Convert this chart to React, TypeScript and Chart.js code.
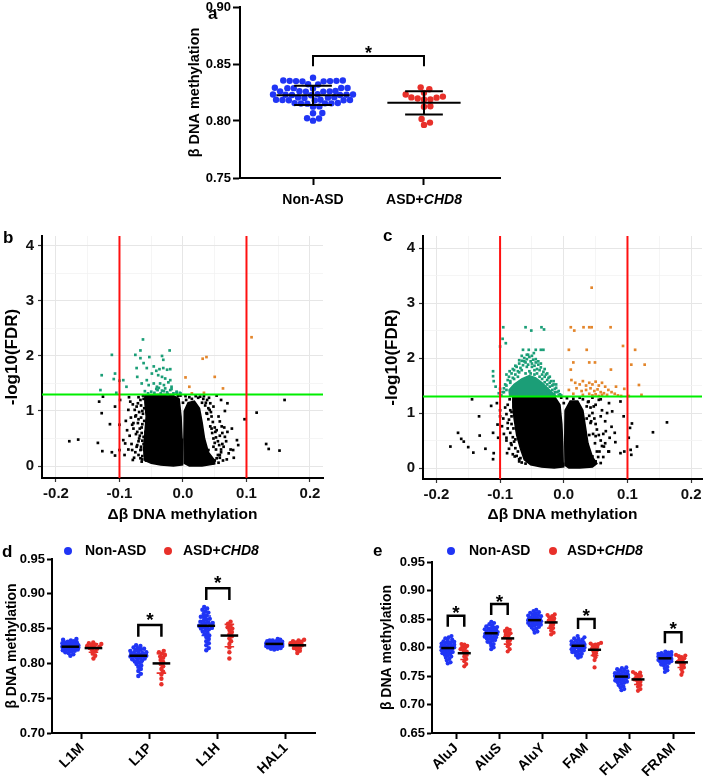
import React, { useEffect, useRef } from "react";
import { Chart, registerables } from "chart.js";
Chart.register(...registerables);

const FONT = "'Liberation Sans', Arial, Helvetica, sans-serif";
Chart.defaults.font.family = FONT;
Chart.defaults.color = "#000";

const BLUE = "#2035f5";
const RED = "#e8302a";
const TEAL = "#1b9e77";
const ORANGE = "#e3862c";
const ITALIC_WORD = "CHD8";

// ---------------- Panel a ----------------
const A_LABELS = ["Non-ASD", "ASD+CHD8"];
const A_TICKS = [0.75, 0.8, 0.85, 0.9];
const A_NON_ASD = [0.838, 0.8355, 0.8352, 0.835, 0.8348, 0.8352, 0.835, 0.8355, 0.8348, 0.8322, 0.832, 0.8288, 0.829, 0.8286, 0.8292, 0.8288, 0.829, 0.826, 0.8262, 0.8258, 0.826, 0.8264, 0.8258, 0.8232, 0.823, 0.8228, 0.8234, 0.823, 0.8226, 0.8232, 0.8228, 0.8205, 0.8208, 0.8202, 0.8206, 0.8184, 0.8182, 0.8186, 0.818, 0.8184, 0.8182, 0.8186, 0.8155, 0.8157, 0.8153, 0.8155, 0.8158, 0.8152, 0.8126, 0.8128, 0.8068, 0.807, 0.8024, 0.8022, 0.8003];
const A_ASD_CHD8 = [0.8295, 0.8278, 0.8247, 0.8233, 0.8214, 0.8207, 0.8205, 0.8198, 0.819, 0.8188, 0.813, 0.8126, 0.8018, 0.7986, 0.7966];
const A_MEAN = [0.8225, 0.816];
const A_SD = [0.0085, 0.0102];
const A_BRACKETS = [[1, 2, 0.848, 0.857, 0.8638]];

// ---------------- Volcano panels b / c ----------------
const LFC_CUT = 0.1;
const FDR_LINE = 1.301;
const VOLC_X_TICKS = [-0.2, -0.15, -0.1, -0.05, 0, 0.05, 0.1, 0.15, 0.2];
const VOLC_Y_TICKS = [0, 0.5, 1, 1.5, 2, 2.5, 3, 3.5, 4];

const B_CORE_L = [[-0.06, 1.29], [-0.04, 1.3], [-0.018, 1.3], [-0.006, 1.22], [-0.003, 0.9], [-0.0015, 0.5], [-0.001, 0.15], [0.0, 0.02], [-0.015, 0.0], [-0.035, 0.02], [-0.05, 0.05], [-0.06, 0.1], [-0.062, 0.3], [-0.06, 0.6], [-0.058, 0.9], [-0.06, 1.15]];
const B_CORE_R = [[0.002, 1.0], [0.008, 1.15], [0.018, 1.18], [0.026, 1.05], [0.03, 0.8], [0.034, 0.5], [0.04, 0.25], [0.05, 0.1], [0.05, 0.04], [0.03, 0.0], [0.01, 0.0], [0.002, 0.05], [0.0015, 0.5]];
const B_BLACK = [[-0.179, 0.45], [-0.165, 0.48], [-0.134, 0.42], [-0.127, 0.27], [-0.112, 0.25], [-0.107, 0.19], [-0.115, 0.76], [-0.128, 0.96], [-0.132, 1.17], [-0.126, 1.26], [-0.107, 1.08], [-0.1, 0.75], [-0.1, 0.29], [-0.091, 0.41], [-0.088, 0.65], [-0.086, 1.02], [-0.08, 0.29], [-0.078, 0.78], [-0.083, 1.17], [-0.073, 0.35], [-0.079, 0.11], [-0.067, 0.14], [-0.099, 1.2], [-0.094, 0.47], [-0.067, 0.29], [-0.062, 0.53], [-0.073, 1.08], [-0.075, 0.9],
  [0.16, 1.2], [0.116, 0.97], [0.097, 0.85], [0.131, 0.4], [0.135, 0.31], [0.152, 0.28], [0.069, 0.12], [0.077, 0.68], [0.07, 1.14], [0.085, 0.47], [0.087, 0.38], [0.079, 0.29], [0.058, 0.2], [0.053, 1.28], [0.048, 1.08], [0.056, 0.9], [0.061, 0.72], [0.066, 0.53], [0.051, 0.62], [0.043, 1.14], [0.027, 1.26], [0.037, 0.96], [0.048, 0.35], [0.064, 0.35], [0.072, 0.23], [0.053, 0.14], [0.04, 0.29], [0.058, 0.81],
  [-0.062, 1.22], [-0.066, 1.1], [-0.063, 0.95], [-0.07, 0.85], [-0.065, 0.7], [-0.068, 0.55], [-0.062, 0.4], [-0.066, 0.3], [-0.06, 0.22], [-0.064, 0.12], [-0.058, 0.1], [-0.075, 0.25], [-0.072, 0.62], [-0.076, 1.02], [-0.08, 0.75], [-0.061, 1.05], [-0.059, 0.62], [-0.061, 0.82], [-0.07, 1.25], [-0.058, 1.27], [-0.064, 0.18], [-0.07, 0.45],
  [0.035, 1.1], [0.038, 0.95], [0.04, 0.85], [0.043, 0.72], [0.046, 0.6], [0.048, 0.5], [0.05, 0.42], [0.052, 0.3], [0.055, 0.2], [0.05, 0.1], [0.058, 0.15], [0.038, 1.2], [0.032, 1.22], [0.045, 0.9], [0.042, 1.02], [0.055, 0.45], [0.06, 0.3], [0.053, 0.65], [0.058, 0.55], [0.062, 0.4], [0.047, 0.05], [0.02, 1.27], [0.01, 1.25], [0.005, 1.2], [-0.008, 1.27],
  [-0.063, 1.28], [-0.067, 1.2], [-0.071, 1.14], [-0.064, 1.0], [-0.069, 0.98], [-0.074, 0.92], [-0.066, 0.88], [-0.071, 0.78], [-0.064, 0.76], [-0.068, 0.68], [-0.074, 0.58], [-0.065, 0.6], [-0.069, 0.5], [-0.064, 0.46], [-0.072, 0.38], [-0.066, 0.35], [-0.07, 0.2], [-0.065, 0.08], [-0.077, 0.15], [-0.081, 0.4], [-0.084, 0.55], [-0.078, 0.68], [-0.082, 0.88], [-0.079, 1.12], [-0.085, 1.25], [-0.09, 0.82], [-0.092, 0.2], [-0.086, 0.3],
  [0.036, 1.15], [0.04, 1.05], [0.044, 0.98], [0.047, 0.8], [0.05, 0.7], [0.045, 0.68], [0.052, 0.52], [0.057, 0.38], [0.06, 0.25], [0.063, 0.1], [0.056, 0.06], [0.062, 0.6], [0.065, 0.7], [0.068, 0.45], [0.07, 0.62], [0.066, 1.0], [0.06, 1.2], [0.075, 0.3], [0.08, 0.15], [0.033, 1.27], [0.041, 1.24], [0.03, 1.15],
  [-0.004, 1.28], [0.0, 1.15], [0.004, 1.27], [0.014, 1.22], [0.024, 1.24]];
const B_GREEN = [[-0.063, 2.3], [-0.112, 2.02], [-0.067, 2.1], [-0.075, 2.02], [-0.067, 1.96], [-0.053, 1.98], [-0.033, 2.0], [-0.021, 2.1], [-0.031, 1.93], [-0.128, 1.65], [-0.107, 1.68], [-0.109, 1.58], [-0.1, 1.55], [-0.094, 1.56], [-0.089, 1.44], [-0.13, 1.38], [-0.105, 1.33], [-0.073, 1.78], [-0.072, 1.62], [-0.062, 1.87], [-0.057, 1.78], [-0.046, 1.81], [-0.042, 1.73], [-0.037, 1.76], [-0.031, 1.78], [-0.025, 1.75], [-0.02, 1.76], [-0.049, 1.68], [-0.039, 1.65], [-0.033, 1.62], [-0.028, 1.59], [-0.02, 1.56], [-0.057, 1.56], [-0.065, 1.5], [-0.054, 1.47], [-0.046, 1.5], [-0.041, 1.44], [-0.036, 1.5], [-0.03, 1.47], [-0.023, 1.52], [-0.018, 1.44], [-0.05, 1.35], [-0.045, 1.33], [-0.04, 1.38], [-0.035, 1.32], [-0.03, 1.36], [-0.025, 1.34], [-0.02, 1.38], [-0.015, 1.32], [-0.01, 1.35], [-0.042, 1.4], [-0.028, 1.41], [-0.018, 1.4], [-0.055, 1.32], [-0.06, 1.36], [-0.005, 1.33], [-0.01, 1.33], [-0.004, 1.32], [-0.033, 1.37], [-0.024, 1.31], [-0.038, 1.42]];
const B_ORANGE = [[0.108, 2.34], [0.031, 1.95], [0.037, 1.98], [0.004, 1.61], [0.05, 1.62], [0.01, 1.44], [0.063, 1.41], [0.033, 1.33], [0.014, 1.32]];

const C_CORE_L = [[-0.08, 1.29], [-0.06, 1.3], [-0.035, 1.3], [-0.014, 1.29], [-0.006, 1.15], [-0.003, 0.8], [-0.0015, 0.4], [-0.001, 0.1], [0.0, 0.02], [-0.015, 0.0], [-0.035, 0.02], [-0.052, 0.06], [-0.062, 0.15], [-0.068, 0.35], [-0.074, 0.6], [-0.078, 0.9], [-0.08, 1.1]];
const C_CORE_R = [[0.002, 1.05], [0.01, 1.22], [0.022, 1.22], [0.03, 1.05], [0.034, 0.75], [0.038, 0.45], [0.045, 0.2], [0.052, 0.08], [0.045, 0.02], [0.025, 0.0], [0.008, 0.0], [0.002, 0.05], [0.0015, 0.5]];
const C_BLACK = [[-0.178, 0.39], [-0.166, 0.64], [-0.161, 0.53], [-0.157, 0.48], [-0.15, 0.38], [-0.142, 0.28], [-0.132, 0.59], [-0.133, 0.94], [-0.144, 1.25], [-0.123, 0.35], [-0.114, 1.13], [-0.111, 0.64], [-0.11, 0.27], [-0.111, 0.16], [-0.104, 0.79], [-0.103, 0.55], [-0.1, 0.94], [-0.105, 1.18], [-0.09, 0.55], [-0.088, 0.82], [-0.083, 0.45], [-0.089, 0.27], [-0.082, 0.94], [-0.079, 1.21], [-0.077, 0.21], [-0.07, 0.12],
  [0.162, 0.83], [0.14, 0.65], [0.115, 0.39], [0.107, 0.81], [0.104, 0.73], [0.102, 0.55], [0.105, 0.33], [0.106, 0.24], [0.095, 0.3], [0.089, 0.27], [0.081, 0.47], [0.08, 0.64], [0.094, 0.94], [0.089, 1.21], [0.076, 1.03], [0.071, 1.18], [0.071, 0.3], [0.058, 0.09], [0.063, 0.39], [0.066, 0.67], [0.058, 0.94], [0.047, 1.12], [0.055, 1.24], [0.039, 1.21], [0.042, 0.82], [0.05, 0.58], [0.034, 0.33], [0.045, 0.21], [0.037, 0.09],
  [-0.085, 1.25], [-0.088, 1.15], [-0.084, 1.05], [-0.09, 0.98], [-0.086, 0.88], [-0.082, 0.8], [-0.088, 0.72], [-0.084, 0.64], [-0.08, 0.56], [-0.078, 0.48], [-0.082, 0.42], [-0.076, 0.36], [-0.072, 0.3], [-0.074, 0.22], [-0.068, 0.18], [-0.066, 0.1], [-0.06, 0.08], [-0.092, 1.1], [-0.095, 0.9], [-0.094, 0.62], [-0.09, 0.5], [-0.086, 0.35], [-0.08, 0.25], [-0.097, 0.76], [-0.1, 1.05], [-0.07, 0.16],
  [0.038, 1.2], [0.042, 1.1], [0.045, 1.0], [0.048, 0.9], [0.05, 0.8], [0.052, 0.7], [0.055, 0.6], [0.058, 0.5], [0.06, 0.4], [0.056, 0.3], [0.054, 0.2], [0.05, 0.12], [0.045, 0.06], [0.062, 0.62], [0.065, 0.85], [0.06, 1.05], [0.068, 1.0], [0.05, 1.15], [0.058, 1.25], [0.065, 0.45], [0.07, 0.3], [0.062, 0.2], [0.03, 1.25], [0.025, 1.28], [0.045, 1.28], [0.075, 0.75], [0.072, 0.55],
  [0.036, 1.12], [0.04, 0.95], [0.043, 0.85], [0.046, 0.62], [0.049, 0.45], [0.052, 0.3], [0.04, 0.6], [0.036, 0.9], [-0.004, 1.28], [0.0, 1.18], [0.005, 1.27], [0.015, 1.26], [-0.082, 1.02], [-0.079, 0.72], [-0.076, 0.52]];
const C_GREEN_CORE = [[-0.085, 1.31], [-0.086, 1.42], [-0.078, 1.52], [-0.066, 1.62], [-0.054, 1.68], [-0.044, 1.64], [-0.034, 1.55], [-0.025, 1.45], [-0.017, 1.36], [-0.012, 1.31]];
const C_GREEN = [[-0.095, 2.56], [-0.06, 2.56], [-0.051, 2.5], [-0.035, 2.56], [-0.031, 2.52], [-0.096, 2.35], [-0.091, 2.27], [-0.1, 2.21], [-0.064, 2.15], [-0.055, 2.15], [-0.044, 2.15], [-0.036, 2.15], [-0.032, 2.15], [-0.058, 2.06], [-0.047, 2.09], [-0.111, 1.76], [-0.111, 1.67], [-0.11, 1.58], [-0.107, 1.48],
  [-0.098, 1.32], [-0.096, 1.38], [-0.094, 1.45], [-0.092, 1.52], [-0.09, 1.42], [-0.088, 1.6], [-0.086, 1.66], [-0.084, 1.55], [-0.082, 1.72], [-0.08, 1.64], [-0.078, 1.78], [-0.076, 1.7], [-0.074, 1.84], [-0.072, 1.76], [-0.07, 1.9], [-0.068, 1.82], [-0.066, 1.95], [-0.064, 1.87], [-0.062, 2.0], [-0.06, 1.92], [-0.058, 1.98], [-0.056, 1.88], [-0.054, 2.02], [-0.052, 1.94], [-0.05, 1.9], [-0.048, 1.97], [-0.046, 1.86], [-0.044, 1.92], [-0.042, 1.8], [-0.04, 1.88], [-0.038, 1.78], [-0.036, 1.83], [-0.034, 1.7], [-0.032, 1.75], [-0.03, 1.66], [-0.028, 1.7], [-0.026, 1.6], [-0.024, 1.64], [-0.022, 1.55], [-0.02, 1.58], [-0.018, 1.5], [-0.016, 1.52], [-0.014, 1.44], [-0.012, 1.46], [-0.01, 1.38], [-0.008, 1.4], [-0.006, 1.34], [-0.004, 1.32], [-0.015, 1.34], [-0.025, 1.36], [-0.035, 1.33], [-0.045, 1.35], [-0.055, 1.32], [-0.065, 1.34], [-0.075, 1.33], [-0.083, 1.36], [-0.102, 1.36], [-0.1, 1.44],
  [-0.09, 1.7], [-0.085, 1.76], [-0.08, 1.8], [-0.076, 1.86], [-0.07, 1.96], [-0.066, 2.04], [-0.062, 1.94], [-0.058, 1.84], [-0.054, 1.76], [-0.05, 1.84], [-0.046, 1.78], [-0.042, 1.72], [-0.038, 1.66], [-0.034, 1.62], [-0.03, 1.56], [-0.026, 1.52], [-0.022, 1.48], [-0.018, 1.42], [-0.014, 1.38], [-0.008, 1.32], [-0.06, 1.72], [-0.066, 1.78], [-0.072, 1.66], [-0.078, 1.62], [-0.084, 1.58], [-0.09, 1.5], [-0.094, 1.38], [-0.044, 1.98], [-0.05, 2.04], [-0.056, 2.06], [-0.04, 1.94], [-0.036, 1.9], [-0.03, 1.8], [-0.026, 1.72], [-0.022, 1.66], [-0.016, 1.58], [-0.012, 1.52], [-0.07, 1.74], [-0.052, 1.72], [-0.046, 1.7]];
const C_ORANGE = [[0.0438, 3.28], [0.011, 2.56], [0.0165, 2.5], [0.031, 2.56], [0.04, 2.56], [0.0438, 2.56], [0.0735, 2.56], [0.008, 2.15], [0.036, 2.15], [0.093, 2.22], [0.112, 2.15], [0.015, 1.92], [0.04, 1.92], [0.049, 1.92], [0.106, 1.88], [0.127, 1.88], [0.011, 1.79], [0.074, 1.79], [0.118, 1.51], [0.122, 1.33], [0.095, 1.44], [0.082, 1.48],
  [0.012, 1.6], [0.018, 1.55], [0.025, 1.52], [0.03, 1.58], [0.035, 1.5], [0.04, 1.55], [0.045, 1.52], [0.05, 1.57], [0.055, 1.5], [0.06, 1.55], [0.065, 1.48], [0.07, 1.42], [0.075, 1.38], [0.02, 1.45], [0.028, 1.4], [0.035, 1.42], [0.042, 1.45], [0.048, 1.4], [0.053, 1.43], [0.058, 1.38], [0.063, 1.36], [0.068, 1.33], [0.04, 1.35], [0.045, 1.32], [0.05, 1.34], [0.055, 1.31], [0.06, 1.33], [0.03, 1.33], [0.015, 1.35], [0.008, 1.42], [0.08, 1.35], [0.085, 1.32], [0.09, 1.31], [0.102, 1.31]];

// ---------------- Panel d ----------------
const D_CATS = ["L1M", "L1P", "L1H", "HAL1"];
const D_TICKS = [0.7, 0.75, 0.8, 0.85, 0.9, 0.95];
const D_NON_ASD = [
  [0.835, 0.834, 0.833, 0.832, 0.831, 0.83, 0.83, 0.829, 0.828, 0.828, 0.827, 0.827, 0.826, 0.826, 0.825, 0.825, 0.825, 0.824, 0.824, 0.824, 0.823, 0.823, 0.823, 0.822, 0.822, 0.821, 0.821, 0.82, 0.82, 0.819, 0.818, 0.817, 0.816, 0.815, 0.813, 0.811],
  [0.826, 0.825, 0.823, 0.822, 0.821, 0.82, 0.819, 0.818, 0.817, 0.816, 0.815, 0.815, 0.814, 0.813, 0.813, 0.812, 0.812, 0.811, 0.811, 0.81, 0.81, 0.809, 0.808, 0.807, 0.806, 0.805, 0.804, 0.803, 0.801, 0.799, 0.797, 0.795, 0.792, 0.789, 0.785, 0.782],
  [0.881, 0.879, 0.877, 0.875, 0.873, 0.871, 0.869, 0.867, 0.866, 0.864, 0.863, 0.861, 0.86, 0.859, 0.858, 0.857, 0.856, 0.855, 0.854, 0.853, 0.852, 0.851, 0.85, 0.849, 0.848, 0.846, 0.844, 0.842, 0.84, 0.838, 0.835, 0.832, 0.829, 0.826, 0.822, 0.819],
  [0.835, 0.834, 0.833, 0.833, 0.832, 0.832, 0.831, 0.831, 0.83, 0.83, 0.83, 0.829, 0.829, 0.829, 0.828, 0.828, 0.828, 0.828, 0.827, 0.827, 0.827, 0.827, 0.826, 0.826, 0.826, 0.825, 0.825, 0.825, 0.824, 0.824, 0.823, 0.823, 0.822, 0.821, 0.821, 0.82],
];
const D_ASD_CHD8 = [
  [0.83, 0.829, 0.828, 0.827, 0.826, 0.825, 0.824, 0.823, 0.822, 0.821, 0.819, 0.817, 0.814, 0.811, 0.807],
  [0.818, 0.816, 0.814, 0.812, 0.81, 0.808, 0.805, 0.802, 0.799, 0.796, 0.792, 0.788, 0.784, 0.778, 0.77],
  [0.86, 0.857, 0.854, 0.852, 0.85, 0.848, 0.845, 0.842, 0.839, 0.836, 0.832, 0.828, 0.823, 0.816, 0.807],
  [0.834, 0.833, 0.832, 0.831, 0.83, 0.829, 0.828, 0.827, 0.826, 0.825, 0.823, 0.822, 0.82, 0.818, 0.815],
];
const D_NON_MEAN = [0.824, 0.811, 0.854, 0.828];
const D_NON_SD = [0.005, 0.01, 0.014, 0.004];
const D_ASD_MEAN = [0.822, 0.8, 0.84, 0.826];
const D_ASD_SD = [0.006, 0.014, 0.016, 0.005];
const D_BRACKETS = [[1, 0.8384, 0.855, 0.8695], [2, 0.891, 0.9079, 0.9222]];

// ---------------- Panel e ----------------
const E_CATS = ["AluJ", "AluS", "AluY", "FAM", "FLAM", "FRAM"];
const E_TICKS = [0.65, 0.7, 0.75, 0.8, 0.85, 0.9, 0.95];
const E_NON_ASD = [
  [0.82, 0.818, 0.816, 0.814, 0.813, 0.811, 0.81, 0.809, 0.808, 0.807, 0.806, 0.805, 0.804, 0.803, 0.802, 0.801, 0.8, 0.799, 0.798, 0.797, 0.796, 0.795, 0.794, 0.793, 0.792, 0.791, 0.79, 0.789, 0.787, 0.786, 0.784, 0.782, 0.78, 0.777, 0.774, 0.772],
  [0.845, 0.843, 0.841, 0.839, 0.837, 0.836, 0.835, 0.834, 0.833, 0.832, 0.831, 0.83, 0.829, 0.828, 0.827, 0.826, 0.825, 0.825, 0.824, 0.823, 0.822, 0.821, 0.82, 0.819, 0.818, 0.817, 0.816, 0.815, 0.813, 0.812, 0.81, 0.808, 0.806, 0.803, 0.8, 0.797],
  [0.866, 0.864, 0.862, 0.861, 0.86, 0.858, 0.857, 0.856, 0.855, 0.854, 0.853, 0.852, 0.851, 0.85, 0.85, 0.849, 0.849, 0.848, 0.848, 0.847, 0.846, 0.845, 0.845, 0.844, 0.843, 0.842, 0.841, 0.84, 0.839, 0.838, 0.836, 0.835, 0.833, 0.831, 0.828, 0.826],
  [0.82, 0.818, 0.816, 0.815, 0.814, 0.812, 0.811, 0.81, 0.809, 0.808, 0.807, 0.806, 0.806, 0.805, 0.805, 0.804, 0.803, 0.803, 0.802, 0.801, 0.8, 0.8, 0.799, 0.798, 0.797, 0.796, 0.795, 0.794, 0.793, 0.792, 0.791, 0.789, 0.788, 0.786, 0.784, 0.782],
  [0.765, 0.764, 0.762, 0.761, 0.76, 0.758, 0.757, 0.756, 0.755, 0.754, 0.753, 0.752, 0.751, 0.751, 0.75, 0.75, 0.749, 0.749, 0.748, 0.747, 0.746, 0.745, 0.745, 0.744, 0.743, 0.742, 0.741, 0.74, 0.739, 0.738, 0.736, 0.734, 0.732, 0.73, 0.727, 0.725],
  [0.793, 0.792, 0.791, 0.79, 0.789, 0.788, 0.787, 0.786, 0.786, 0.785, 0.785, 0.784, 0.784, 0.783, 0.783, 0.782, 0.782, 0.781, 0.781, 0.78, 0.78, 0.779, 0.778, 0.778, 0.777, 0.776, 0.775, 0.774, 0.773, 0.772, 0.77, 0.768, 0.766, 0.763, 0.76, 0.757],
];
const E_ASD_CHD8 = [
  [0.806, 0.805, 0.803, 0.801, 0.799, 0.797, 0.795, 0.793, 0.79, 0.787, 0.784, 0.78, 0.776, 0.771, 0.767],
  [0.833, 0.831, 0.829, 0.827, 0.825, 0.823, 0.821, 0.818, 0.816, 0.813, 0.81, 0.806, 0.802, 0.797, 0.793],
  [0.858, 0.857, 0.855, 0.853, 0.851, 0.849, 0.847, 0.845, 0.843, 0.84, 0.837, 0.834, 0.83, 0.826, 0.823],
  [0.808, 0.807, 0.806, 0.805, 0.803, 0.801, 0.799, 0.797, 0.795, 0.793, 0.79, 0.787, 0.783, 0.778, 0.765],
  [0.757, 0.756, 0.754, 0.752, 0.75, 0.748, 0.746, 0.744, 0.742, 0.74, 0.737, 0.734, 0.731, 0.727, 0.724],
  [0.787, 0.786, 0.785, 0.783, 0.781, 0.779, 0.777, 0.775, 0.773, 0.771, 0.768, 0.765, 0.762, 0.757, 0.752],
];
const E_NON_MEAN = [0.799, 0.825, 0.848, 0.803, 0.749, 0.781];
const E_NON_SD = [0.011, 0.01, 0.009, 0.009, 0.009, 0.008];
const E_ASD_MEAN = [0.79, 0.816, 0.844, 0.796, 0.744, 0.774];
const E_ASD_SD = [0.011, 0.01, 0.01, 0.01, 0.009, 0.009];
const E_BRACKETS = [[0, 0.8365, 0.8558, 0.8698], [1, 0.857, 0.8763, 0.889], [3, 0.8325, 0.85, 0.8646], [5, 0.8074, 0.8266, 0.8407]];

// ---------------- helpers ----------------
function richParts(label: string): [string, boolean][] {
  const i = label.indexOf(ITALIC_WORD);
  if (i < 0) return [[label, false]];
  const parts: [string, boolean][] = [];
  if (i > 0) parts.push([label.slice(0, i), false]);
  parts.push([ITALIC_WORD, true]);
  const rest = label.slice(i + ITALIC_WORD.length);
  if (rest) parts.push([rest, false]);
  return parts;
}

function drawRich(ctx: CanvasRenderingContext2D, label: string, x: number, y: number, size: number, align: string) {
  const parts = richParts(label);
  const f = (it: boolean) => `${it ? "italic " : ""}bold ${size}px ${FONT}`;
  let total = 0;
  for (const [t, it] of parts) { ctx.font = f(it); total += ctx.measureText(t).width; }
  let cx = align === "center" ? x - total / 2 : x;
  ctx.textAlign = "left";
  ctx.textBaseline = "middle";
  ctx.fillStyle = "#000";
  for (const [t, it] of parts) { ctx.font = f(it); ctx.fillText(t, cx, y); cx += ctx.measureText(t).width; }
}

function drawStar(ctx: CanvasRenderingContext2D, x: number, y: number, size: number) {
  ctx.font = `bold ${size}px ${FONT}`;
  ctx.textAlign = "center";
  ctx.textBaseline = "alphabetic";
  ctx.fillStyle = "#000";
  ctx.fillText("*", x, y + size * 0.58);
}

function swarm(values: number[], center: number, pxY: number, pxX: number, diam: number, maxHalf: number) {
  const placed: { x: number; y: number }[] = [];
  const out: { x: number; y: number }[] = [];
  const sorted = [...values].sort((a, b) => a - b);
  const d2 = diam * diam;
  for (const v of sorted) {
    const py = v * pxY;
    const cands = [0];
    for (const p of placed) {
      const dy = Math.abs(p.y - py);
      if (dy < diam) { const dx = Math.sqrt(d2 - dy * dy); cands.push(p.x + dx, p.x - dx); }
    }
    cands.sort((a, b) => Math.abs(a) - Math.abs(b));
    let best: number | null = null;
    for (const c of cands) {
      if (Math.abs(c) > maxHalf) continue;
      if (placed.every((p) => (p.x - c) ** 2 + (p.y - py) ** 2 >= d2 - 1e-6)) { best = c; break; }
    }
    if (best === null) {
      let score = -1;
      for (let c = -maxHalf; c <= maxHalf + 1e-9; c += 0.5) {
        let m = Infinity;
        for (const p of placed) m = Math.min(m, (p.x - c) ** 2 + (p.y - py) ** 2);
        if (m > score) { score = m; best = c; }
      }
    }
    placed.push({ x: best as number, y: py });
    out.push({ x: center + (best as number) / pxX, y: v });
  }
  return out;
}

const bold = (size: number) => ({ family: FONT, size, weight: "bold" as any });

function gpYAxis(ticks: number[], min: number, max: number, width: number, titlePad: number, titleSize: number, tickLen: number) {
  return {
    type: "linear", min, max,
    afterBuildTicks: (s: any) => { s.ticks = ticks.map((value) => ({ value })); },
    ticks: { autoSkip: false, font: bold(13), color: "#000", padding: 2, callback: (v: any) => Number(v).toFixed(2) },
    grid: { display: true, drawOnChartArea: false, drawTicks: true, tickLength: tickLen, tickWidth: 2, tickColor: "#000" },
    border: { display: true, color: "#000", width: 2 },
    title: { display: true, text: "β DNA methylation", font: bold(titleSize), color: "#000", padding: { top: titlePad, bottom: 0 } },
    afterFit: (s: any) => { s.width = width; s.paddingTop = 0; s.paddingBottom = 0; },
  };
}

// ---------------- configs ----------------
function configA() {
  const blue = swarm(A_NON_ASD, 1, 1142, 111, 6.4, 40);
  const red = swarm(A_ASD_CHD8, 2, 1142, 111, 6.4, 40);
  const plugin = {
    id: "annotA",
    afterDatasetsDraw(chart: any) {
      const { ctx } = chart;
      const x = chart.scales.x, y = chart.scales.y;
      ctx.save();
      ctx.strokeStyle = "#000";
      ctx.lineWidth = 2;
      A_MEAN.forEach((m, i) => {
        const c = i + 1;
        const cx = x.getPixelForValue(c);
        const ym = y.getPixelForValue(m), yt = y.getPixelForValue(m + A_SD[i]), yb = y.getPixelForValue(m - A_SD[i]);
        ctx.beginPath();
        ctx.moveTo(x.getPixelForValue(c - 0.33), ym); ctx.lineTo(x.getPixelForValue(c + 0.33), ym);
        ctx.moveTo(cx, yt); ctx.lineTo(cx, yb);
        ctx.moveTo(x.getPixelForValue(c - 0.17), yt); ctx.lineTo(x.getPixelForValue(c + 0.17), yt);
        ctx.moveTo(x.getPixelForValue(c - 0.17), yb); ctx.lineTo(x.getPixelForValue(c + 0.17), yb);
        ctx.stroke();
      });
      A_BRACKETS.forEach(([x1, x2, b, t, s]) => {
        const p1 = x.getPixelForValue(x1), p2 = x.getPixelForValue(x2);
        ctx.beginPath();
        ctx.moveTo(p1, y.getPixelForValue(b)); ctx.lineTo(p1, y.getPixelForValue(t));
        ctx.lineTo(p2, y.getPixelForValue(t)); ctx.lineTo(p2, y.getPixelForValue(b));
        ctx.stroke();
        drawStar(ctx, (p1 + p2) / 2, y.getPixelForValue(s), 18);
      });
      A_LABELS.forEach((lab, i) => drawRich(ctx, lab, x.getPixelForValue(i + 1), chart.chartArea.bottom + 22, 14, "center"));
      ctx.restore();
    },
  };
  return {
    type: "scatter",
    data: {
      datasets: [
        { data: blue, pointBackgroundColor: BLUE, pointBorderWidth: 0, pointRadius: 3.2 },
        { data: red, pointBackgroundColor: RED, pointBorderWidth: 0, pointRadius: 3.2 },
      ],
    },
    options: {
      animation: false, responsive: false, events: [],
      layout: { padding: { top: 7, right: 4, left: 0, bottom: 0 } },
      plugins: { legend: { display: false }, tooltip: { enabled: false } },
      scales: {
        x: {
          type: "linear", min: 0.342, max: 2.685,
          afterBuildTicks: (s: any) => { s.ticks = A_LABELS.map((_, i) => ({ value: i + 1 })); },
          ticks: { display: false },
          grid: { display: true, drawOnChartArea: false, drawTicks: true, tickLength: 7, tickWidth: 2, tickColor: "#000" },
          border: { display: true, color: "#000", width: 2 },
          afterFit: (s: any) => { s.height = 37; s.paddingLeft = 0; s.paddingRight = 0; },
        },
        y: gpYAxis(A_TICKS, 0.75, 0.9, 62, 8.3, 14.5, 7),
      },
    },
    plugins: [plugin],
  };
}

function volcanoConfig(v: any) {
  const P = (a: number[][]) => a.map(([x, y]) => ({ x, y }));
  const poly = (a: number[][]) => { const p = P(a); p.push({ ...p[0] }); return p; };
  const isMaj = (val: number, step: number) => Math.abs(val / step - Math.round(val / step)) < 1e-6;
  const ptStyle = { pointStyle: "rect", pointRadius: 1.9, pointBorderWidth: 0 };
  const line = (data: any[], color: string) => ({ data, showLine: true, borderColor: color, borderWidth: 2, pointRadius: 0, fill: false, order: 0 });
  const datasets: any[] = [
    line([{ x: -LFC_CUT, y: v.yMin }, { x: -LFC_CUT, y: v.yMax }], "#ff1010"),
    line([{ x: LFC_CUT, y: v.yMin }, { x: LFC_CUT, y: v.yMax }], "#ff1010"),
    line([{ x: v.xMin, y: FDR_LINE }, { x: v.xMax, y: FDR_LINE }], "#00ee00"),
    { data: P(v.orange), pointBackgroundColor: ORANGE, ...ptStyle, order: 2 },
    { data: P(v.green), pointBackgroundColor: TEAL, ...ptStyle, order: 3 },
    { data: P(v.black), pointBackgroundColor: "#000", ...ptStyle, order: 5 },
    { data: poly(v.coreL), showLine: true, fill: "shape", backgroundColor: "#000", borderColor: "#000", borderWidth: 1.5, pointRadius: 0, order: 6 },
    { data: poly(v.coreR), showLine: true, fill: "shape", backgroundColor: "#000", borderColor: "#000", borderWidth: 1.5, pointRadius: 0, order: 6 },
  ];
  if (v.greenCore) datasets.push({ data: poly(v.greenCore), showLine: true, fill: "shape", backgroundColor: TEAL, borderColor: TEAL, borderWidth: 1.5, pointRadius: 0, order: 4 });
  const gridOpts = (step: number) => ({
    display: true, drawOnChartArea: true, drawTicks: true, tickLength: 4,
    color: (c: any) => (c.tick && isMaj(c.tick.value, step) ? "#e6e6e6" : "#f2f2f2"),
    lineWidth: (c: any) => (c.tick && isMaj(c.tick.value, step) ? 1 : 0.8),
    tickColor: (c: any) => (c.tick && isMaj(c.tick.value, step) ? "#333" : "rgba(0,0,0,0)"),
    tickWidth: 1.2,
  });
  return {
    type: "scatter",
    data: { datasets },
    options: {
      animation: false, responsive: false, events: [],
      layout: { padding: { top: v.padTop, right: v.padRight, left: 0, bottom: 0 } },
      plugins: { legend: { display: false }, tooltip: { enabled: false } },
      scales: {
        x: {
          type: "linear", min: v.xMin, max: v.xMax,
          afterBuildTicks: (s: any) => { s.ticks = VOLC_X_TICKS.map((value) => ({ value })); },
          ticks: { autoSkip: false, maxRotation: 0, font: bold(15), color: "#111", padding: 3, callback: (val: any) => (isMaj(val, 0.1) ? Number(val).toFixed(1) : "") },
          grid: gridOpts(0.1),
          border: { display: true, color: "#000", width: 2 },
          title: { display: true, text: "Δβ DNA methylation", font: bold(15.5), color: "#000", padding: { top: 0, bottom: 6 } },
          afterFit: (s: any) => { s.height = v.xHeight; s.paddingLeft = 0; s.paddingRight = 0; },
        },
        y: {
          type: "linear", min: v.yMin, max: v.yMax,
          afterBuildTicks: (s: any) => { s.ticks = VOLC_Y_TICKS.map((value) => ({ value })); },
          ticks: { autoSkip: false, font: bold(15), color: "#111", padding: 4, callback: (val: any) => (isMaj(val, 1) ? String(Math.round(val)) : "") },
          grid: gridOpts(1),
          border: { display: true, color: "#000", width: 2 },
          title: { display: true, text: "-log10(FDR)", font: bold(17), color: "#000", padding: { top: v.titlePad, bottom: 0 } },
          afterFit: (s: any) => { s.width = v.yWidth; s.paddingTop = 0; s.paddingBottom = 0; },
        },
      },
    },
  };
}

const VB = { coreL: B_CORE_L, coreR: B_CORE_R, black: B_BLACK, green: B_GREEN, orange: B_ORANGE, greenCore: null,
  xMin: -0.222, xMax: 0.2205, yMin: -0.218, yMax: 4.18, padTop: 6, padRight: 7, yWidth: 42, xHeight: 52, titlePad: 2 };
const VC = { coreL: C_CORE_L, coreR: C_CORE_R, black: C_BLACK, green: C_GREEN, orange: C_ORANGE, greenCore: C_GREEN_CORE,
  xMin: -0.221, xMax: 0.217, yMin: -0.2, yMax: 4.22, padTop: 6, padRight: 6, yWidth: 53, xHeight: 51, titlePad: 12 };

function dotConfig(p: any) {
  const blue: any[] = [], red: any[] = [];
  p.cats.forEach((_: string, i: number) => {
    blue.push(...swarm(p.non[i], i - p.off, p.pxY, p.pxX, p.diam, p.maxHalf));
    red.push(...swarm(p.asd[i], i + p.off, p.pxY, p.pxX, p.diam, p.maxHalf));
  });
  const plugin = {
    id: "annotDot",
    afterDatasetsDraw(chart: any) {
      const { ctx } = chart;
      const x = chart.scales.x, y = chart.scales.y;
      ctx.save();
      const groups: any[] = [];
      p.cats.forEach((_: string, i: number) => {
        groups.push({ c: i - p.off, m: p.nonMean[i], sd: p.nonSd[i], color: BLUE });
        groups.push({ c: i + p.off, m: p.asdMean[i], sd: p.asdSd[i], color: RED });
      });
      groups.forEach((g) => {
        const cx = x.getPixelForValue(g.c);
        const yt = y.getPixelForValue(g.m + g.sd), yb = y.getPixelForValue(g.m - g.sd), ym = y.getPixelForValue(g.m);
        const cl = x.getPixelForValue(g.c - p.capHalf), cr = x.getPixelForValue(g.c + p.capHalf);
        ctx.strokeStyle = g.color; ctx.lineWidth = 1.6;
        ctx.beginPath();
        ctx.moveTo(cx, yt); ctx.lineTo(cx, yb);
        ctx.moveTo(cl, yt); ctx.lineTo(cr, yt);
        ctx.moveTo(cl, yb); ctx.lineTo(cr, yb);
        ctx.stroke();
        ctx.strokeStyle = "#000"; ctx.lineWidth = 2.5;
        ctx.beginPath();
        ctx.moveTo(x.getPixelForValue(g.c - p.meanHalf), ym); ctx.lineTo(x.getPixelForValue(g.c + p.meanHalf), ym);
        ctx.stroke();
      });
      ctx.strokeStyle = "#000"; ctx.lineWidth = 2.5; ctx.lineJoin = "miter";
      p.brackets.forEach(([i, b, t, s]: number[]) => {
        const p1 = x.getPixelForValue(i - p.off), p2 = x.getPixelForValue(i + p.off);
        ctx.beginPath();
        ctx.moveTo(p1, y.getPixelForValue(b)); ctx.lineTo(p1, y.getPixelForValue(t));
        ctx.lineTo(p2, y.getPixelForValue(t)); ctx.lineTo(p2, y.getPixelForValue(b));
        ctx.stroke();
        drawStar(ctx, (p1 + p2) / 2, y.getPixelForValue(s), 19);
      });
      const items = [[p.legend[0], p.legend[1], BLUE, A_LABELS[0]], [p.legend[2], p.legend[3], RED, A_LABELS[1]]];
      items.forEach(([dx, tx, col, lab]: any) => {
        ctx.fillStyle = col;
        ctx.beginPath(); ctx.arc(dx, p.legendY, 4, 0, Math.PI * 2); ctx.fill();
        drawRich(ctx, lab, tx, p.legendY, 14, "left");
      });
      ctx.restore();
    },
  };
  return {
    type: "scatter",
    data: {
      datasets: [
        { data: blue, pointBackgroundColor: BLUE, pointBorderWidth: 0, pointRadius: p.r },
        { data: red, pointBackgroundColor: RED, pointBorderWidth: 0, pointRadius: p.r },
      ],
    },
    options: {
      animation: false, responsive: false, events: [],
      layout: { padding: { top: p.padTop, right: p.padRight, left: 0, bottom: 0 } },
      plugins: { legend: { display: false }, tooltip: { enabled: false } },
      scales: {
        x: {
          type: "linear", min: p.xMin, max: p.xMax,
          afterBuildTicks: (s: any) => { s.ticks = p.cats.map((_: string, i: number) => ({ value: i })); },
          ticks: { autoSkip: false, minRotation: 45, maxRotation: 45, font: bold(14), color: "#000", padding: 1, callback: (_v: any, idx: number) => p.cats[idx] },
          grid: { display: true, drawOnChartArea: false, drawTicks: true, tickLength: 6, tickWidth: 2, tickColor: "#000" },
          border: { display: true, color: "#000", width: 2 },
          afterFit: (s: any) => { s.height = p.xHeight; s.paddingLeft = 0; s.paddingRight = 0; },
        },
        y: gpYAxis(p.ticks, p.yMin, p.yMax, p.yWidth, 3.6, 14, 5),
      },
    },
    plugins: [plugin],
  };
}

const PD = { cats: D_CATS, non: D_NON_ASD, asd: D_ASD_CHD8, nonMean: D_NON_MEAN, nonSd: D_NON_SD, asdMean: D_ASD_MEAN, asdSd: D_ASD_SD, brackets: D_BRACKETS, ticks: D_TICKS,
  off: 0.17, pxY: 696, pxX: 68, diam: 3.3, maxHalf: 8, r: 2.2, meanHalf: 0.13, capHalf: 0.07,
  xMin: -0.44, xMax: 3.43, yMin: 0.7, yMax: 0.95, yWidth: 52, xHeight: 43, padTop: 19, padRight: 15,
  legendY: 11, legend: [68, 85, 168, 183] };
const PE = { cats: E_CATS, non: E_NON_ASD, asd: E_ASD_CHD8, nonMean: E_NON_MEAN, nonSd: E_NON_SD, asdMean: E_ASD_MEAN, asdSd: E_ASD_SD, brackets: E_BRACKETS, ticks: E_TICKS,
  off: 0.19, pxY: 570, pxX: 43.4, diam: 3.0, maxHalf: 6.5, r: 2.1, meanHalf: 0.15, capHalf: 0.09,
  xMin: -0.553, xMax: 5.48, yMin: 0.65, yMax: 0.95, yWidth: 57, xHeight: 43, padTop: 22, padRight: 14,
  legendY: 11, legend: [76, 94, 178, 192] };

function ChartBox({ left, top, width, height, make }: any) {
  const ref = useRef<HTMLCanvasElement>(null);
  useEffect(() => {
    const chart = new Chart(ref.current as HTMLCanvasElement, make());
    return () => chart.destroy();
  }, []);
  return <canvas ref={ref} width={width} height={height} style={{ position: "absolute", left, top, width, height }} />;
}

const letterStyle = (left: number, top: number): any => ({ position: "absolute", left, top, fontFamily: FONT, fontWeight: "bold", fontSize: 17, lineHeight: "17px", color: "#000" });

export default function App() {
  return (
    <div style={{ position: "fixed", left: 0, top: 0, width: 708, height: 776, background: "#fff", overflow: "hidden" }}>
      <ChartBox left={178} top={0} width={326} height={215} make={configA} />
      <ChartBox left={0} top={230} width={330} height={300} make={() => volcanoConfig(VB)} />
      <ChartBox left={370} top={230} width={338} height={300} make={() => volcanoConfig(VC)} />
      <ChartBox left={0} top={540} width={330} height={236} make={() => dotConfig(PD)} />
      <ChartBox left={375} top={540} width={333} height={236} make={() => dotConfig(PE)} />
      <div style={letterStyle(208, 5)}>a</div>
      <div style={letterStyle(3, 229)}>b</div>
      <div style={letterStyle(383, 227)}>c</div>
      <div style={letterStyle(2, 543)}>d</div>
      <div style={letterStyle(373, 542)}>e</div>
    </div>
  );
}
